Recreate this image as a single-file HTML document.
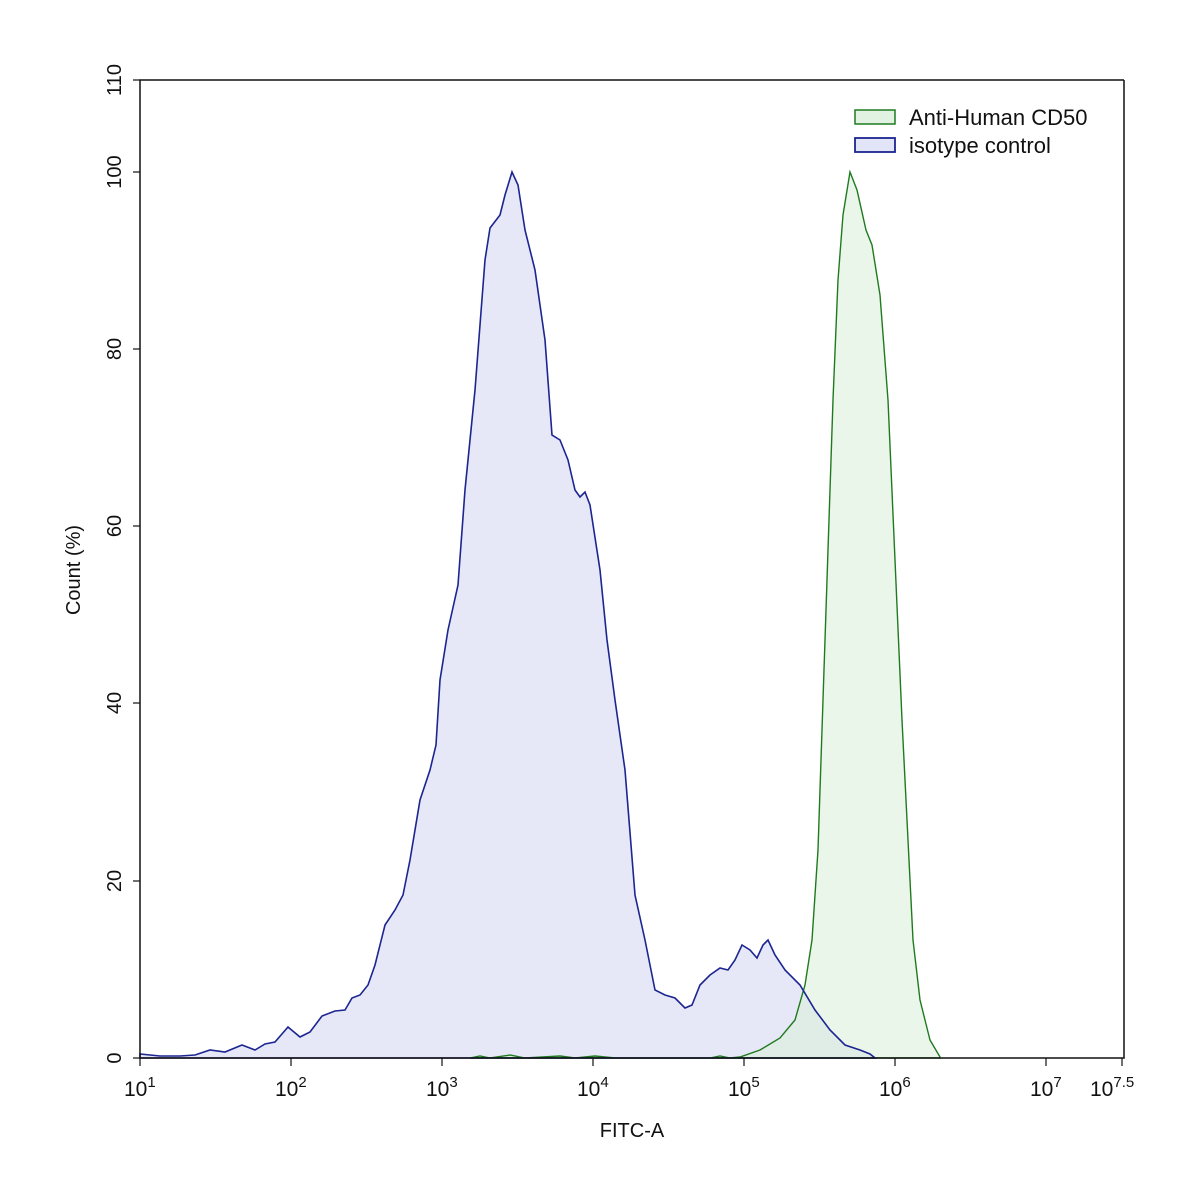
<!DOCTYPE html>
<html><head><meta charset="utf-8"><style>body{margin:0;background:#fff}svg{display:block}text{font-family:"Liberation Sans",sans-serif;fill:#111}</style></head><body>
<svg width="1197" height="1193" viewBox="0 0 1197 1193">
<rect width="1197" height="1193" fill="#fff"/>
<defs><path id="b" d="M140,1058 L140,1054 L160,1056 L180,1056 L195,1055 L210,1050 L225,1052 L242,1045 L255,1050 L265,1044 L275,1042 L288,1027 L300,1037 L310,1032 L322,1016 L335,1011 L345,1010 L352,998 L360,995 L368,985 L375,965 L385,925 L395,910 L403,895 L410,860 L420,800 L430,770 L436,745 L440,680 L448,630 L458,585 L465,490 L475,390 L485,260 L490,228 L500,215 L505,195 L512,172 L518,185 L525,230 L535,270 L545,340 L552,435 L560,440 L568,460 L575,490 L580,497 L585,492 L590,505 L600,570 L607,640 L615,700 L625,770 L635,895 L645,940 L655,990 L665,995 L675,998 L685,1008 L692,1005 L700,985 L710,975 L720,968 L728,970 L735,960 L742,945 L750,950 L757,958 L763,945 L768,940 L775,955 L785,970 L800,985 L815,1010 L830,1030 L845,1045 L860,1050 L870,1054 L875,1058 Z"/></defs>
<use href="#b" fill="#e6e8f8"/>
<path d="M470,1058 L480,1056 L490,1058 L510,1055 L525,1058 L560,1056 L575,1058 L595,1056 L615,1058 L710,1058 L720,1056 L730,1058 L740,1057 L760,1050 L780,1038 L795,1020 L805,985 L812,940 L818,850 L823,700 L828,550 L833,400 L838,280 L843,215 L850,172 L857,190 L866,230 L872,245 L880,295 L888,400 L895,560 L902,720 L908,840 L913,940 L920,1000 L930,1040 L940,1057 L940,1058 Z" fill="rgba(220,240,220,0.6)" stroke="#1f7a1f" stroke-width="1.4"/>
<use href="#b" fill="none" stroke="#1c2590" stroke-width="1.6"/>
<path d="M1124,80 L140,80 L140,1058 L1124,1058 L1124,80" fill="none" stroke="#111" stroke-width="1.5"/>
<g stroke="#111" stroke-width="1.2">
<line x1="133" y1="1058" x2="140" y2="1058"/><line x1="133" y1="881" x2="140" y2="881"/><line x1="133" y1="703" x2="140" y2="703"/><line x1="133" y1="526" x2="140" y2="526"/><line x1="133" y1="349" x2="140" y2="349"/><line x1="133" y1="172" x2="140" y2="172"/><line x1="133" y1="80" x2="140" y2="80"/>
<line x1="140" y1="1058" x2="140" y2="1066"/><line x1="291" y1="1058" x2="291" y2="1066"/><line x1="442" y1="1058" x2="442" y2="1066"/><line x1="593" y1="1058" x2="593" y2="1066"/><line x1="744" y1="1058" x2="744" y2="1066"/><line x1="895" y1="1058" x2="895" y2="1066"/><line x1="1046" y1="1058" x2="1046" y2="1066"/><line x1="1122" y1="1058" x2="1122" y2="1066"/>
</g>
<g font-size="20" text-anchor="middle">
<text transform="translate(121,1058) rotate(-90)">0</text>
<text transform="translate(121,881) rotate(-90)">20</text>
<text transform="translate(121,703) rotate(-90)">40</text>
<text transform="translate(121,526) rotate(-90)">60</text>
<text transform="translate(121,349) rotate(-90)">80</text>
<text transform="translate(121,172) rotate(-90)">100</text>
<text transform="translate(121,80) rotate(-90)">110</text>
<text transform="translate(80,570) rotate(-90)">Count  (%)</text>
<text x="632" y="1137">FITC-A</text>
</g>
<g font-size="21">
<text x="124" y="1096">10<tspan dy="-9" font-size="15">1</tspan></text>
<text x="275" y="1096">10<tspan dy="-9" font-size="15">2</tspan></text>
<text x="426" y="1096">10<tspan dy="-9" font-size="15">3</tspan></text>
<text x="577" y="1096">10<tspan dy="-9" font-size="15">4</tspan></text>
<text x="728" y="1096">10<tspan dy="-9" font-size="15">5</tspan></text>
<text x="879" y="1096">10<tspan dy="-9" font-size="15">6</tspan></text>
<text x="1030" y="1096">10<tspan dy="-9" font-size="15">7</tspan></text>
<text x="1090" y="1096">10<tspan dy="-9" font-size="15">7.5</tspan></text>
</g>
<rect x="855" y="110" width="40" height="14" fill="#e2f2e2" stroke="#1f7a1f" stroke-width="1.5"/>
<rect x="855" y="138" width="40" height="14" fill="#e2e4f8" stroke="#1c2590" stroke-width="1.8"/>
<text x="909" y="125" font-size="22">Anti-Human CD50</text>
<text x="909" y="153" font-size="22">isotype control</text>
</svg>
</body></html>
